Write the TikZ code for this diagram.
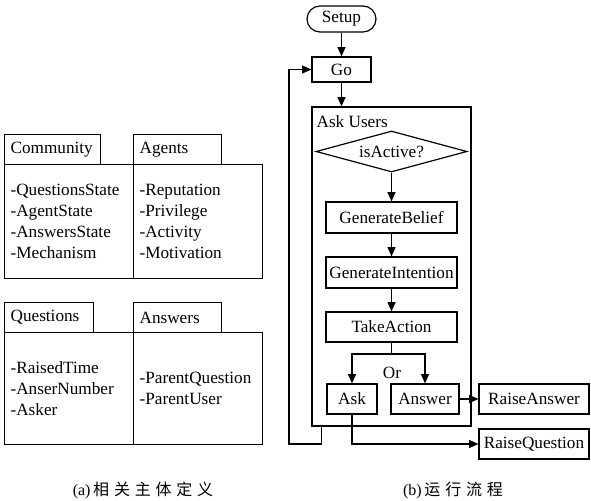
\documentclass[tikz,border=0pt]{standalone}
\usepackage{fontspec}
\setmainfont{Liberation Serif}
\newfontfamily\cjkfont[LetterSpace=30]{Noto Sans CJK SC}
\usetikzlibrary{shapes.geometric,arrows.meta}

\tikzset{
  box/.style={draw, rectangle, minimum width=98.25pt, minimum height=23.25pt, inner sep=0pt},
  smallbox/.style={draw, rectangle, minimum height=22.5pt, inner sep=0pt},
  arr/.style={-{Triangle[length=7pt,width=6pt]}},
  tab/.style={draw, anchor=north west, minimum height=22.5pt, inner xsep=4.5pt, inner ysep=0pt, align=left},
  body/.style={draw, anchor=north west, minimum height=85.5pt, inner xsep=4.5pt, text width=87.75pt, align=left},
  caption/.style={font=\fontsize{12}{14}\selectfont, inner sep=0pt}
}

\begin{document}
\begin{tikzpicture}[x=0.75pt, y=-0.75pt, line width=0.9pt,
    font=\fontsize{12.9}{15.75}\selectfont]

      \useasboundingbox (0,0) rectangle (591,500);

      % entity definitions
      \node[tab, text width=63pt] (commtab) at (4,134) {Community};
      \node[tab, text width=57pt] (agenttab) at (133,134) {Agents};
      \node[body] (commbody) at (4,164) {-QuestionsState\\-AgentState\\-AnswersState\\-Mechanism};
      \node[body] (agentbody) at (133,164) {-Reputation\\-Privilege\\-Activity\\-Motivation};

      \node[tab, text width=57.75pt] (questab) at (4,302) {Questions};
      \node[tab, text width=57pt] (anstab) at (133,302) {Answers};
      \node[body, minimum height=84pt] (quesbody) at (4,332) {-RaisedTime\\-AnserNumber\\-Asker};
      \node[body, minimum height=84pt] (ansbody) at (133,332) {-ParentQuestion\\-ParentUser};

      % run flow
      \node[draw, rounded corners=9.75pt, minimum width=51.75pt, minimum height=19.5pt, inner sep=0pt] (setup) at (341.5,19) {Setup};
      \node[smallbox, minimum width=44.25pt, minimum height=18.75pt] (go) at (341.5,69.5) {Go};
      \node[draw, minimum width=119.25pt, minimum height=239.25pt, inner sep=0pt] (users) at (391.5,266.5) {};
      \node[anchor=west, inner sep=0pt] (userslabel) at (316,122) {Ask Users};
      \node[draw, diamond, aspect=3.7, minimum width=113.25pt, minimum height=30.75pt, inner sep=0pt] (active) at (391.5,151.5) {isActive?};
      \node[box] (belief) at (391.5,217.5) {GenerateBelief};
      \node[box] (intention) at (391.5,272.5) {GenerateIntention};
      \node[box, minimum height=22.5pt] (action) at (391.5,327) {TakeAction};
      \node[smallbox, minimum width=37.5pt] (ask) at (352,399) {Ask};
      \node[smallbox, minimum width=51pt] (answer) at (425,399) {Answer};
      \node[smallbox, minimum width=82.5pt] (raiseans) at (534,399) {RaiseAnswer};
      \node[smallbox, minimum width=82.5pt] (raiseques) at (534,444) {RaiseQuestion};
      \node[inner sep=0pt] (orlabel) at (392,373) {Or};

      \coordinate (fork) at (391.5,354);
      \coordinate (loopcorner) at (289,444);

      \draw[arr] (setup) -- (go);
      \draw[arr] (go.south) -- (go.south |- users.north);
      \draw[arr] (active) -- (belief);
      \draw[arr] (belief) -- (intention);
      \draw[arr] (intention) -- (action);
      \draw (action) -- (fork);
      \draw[arr] (fork) -| (ask.north);
      \draw[arr] (fork) -| (answer.north);
      \draw[arr] (answer) -- (raiseans);
      \draw[arr] (ask.south) |- (raiseques.west);
      \draw[arr] ([xshift=7.5pt]users.south west) |- (loopcorner) |- (go.west);

      % captions
      \node[caption] (capa) at (143,490) {(a)\hspace{2pt}{\cjkfont 相关主体定义}};
      \node[caption] (capb) at (453,490) {(b)\hspace{2pt}{\cjkfont 运行流程}};
\end{tikzpicture}
\end{document}
